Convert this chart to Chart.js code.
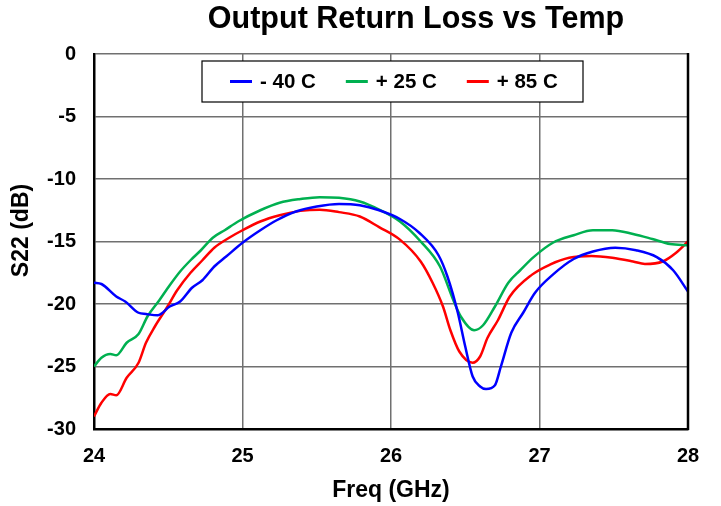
<!DOCTYPE html>
<html>
<head>
<meta charset="utf-8">
<script src="https://cdn.jsdelivr.net/npm/chart.js@4.4.1/dist/chart.umd.min.js"></script>
<style>
  html, body { margin: 0; padding: 0; background: #fff; }
  #wrap { width: 721px; height: 506px; }
</style>
</head>
<body>
<div id="wrap"><canvas id="chart" width="721" height="506"></canvas></div>
<script>
const FONT = "'Liberation Sans', Arial, sans-serif";

const chartTitle = 'Output Return Loss vs Temp';
const xTitle = 'Freq (GHz)';
const yTitle = 'S22 (dB)';

const xTicks = [24, 25, 26, 27, 28];
const yTicks = [0, -5, -10, -15, -20, -25, -30];

const seriesLabels = ['- 40 C', '+ 25 C', '+ 85 C'];
const seriesColors = ['#0000ff', '#00b050', '#ff0000'];

// -40 C
const freqM40 = [24.00, 24.05, 24.15, 24.21, 24.30, 24.35, 24.43, 24.51, 24.58, 24.66, 24.73, 24.81, 24.89, 25.00,
  25.12, 25.23, 25.36, 25.50, 25.65, 25.79, 25.92, 26.06, 26.19, 26.32, 26.38, 26.45, 26.50, 26.55, 26.60, 26.64,
  26.70, 26.74, 26.81, 26.89, 26.97, 27.09, 27.23, 27.36, 27.51, 27.65, 27.79, 27.90, 28.00];
const s22M40 = [-18.3, -18.4, -19.4, -19.8, -20.7, -20.8, -20.9, -20.2, -19.8, -18.7, -18.1, -17.0, -16.2, -15.1,
  -14.1, -13.3, -12.6, -12.2, -12.0, -12.1, -12.5, -13.2, -14.3, -16.1, -17.8, -20.7, -23.4, -25.8, -26.6, -26.8,
  -26.5, -25.0, -22.3, -20.7, -19.1, -17.65, -16.4, -15.8, -15.5, -15.7, -16.25, -17.3, -19.0];

// +25 C
const freqP25 = [24.00, 24.05, 24.11, 24.15, 24.22, 24.30, 24.36, 24.44, 24.51, 24.58, 24.65, 24.72, 24.80, 24.88,
  24.97, 25.12, 25.25, 25.39, 25.52, 25.65, 25.79, 25.92, 26.06, 26.20, 26.33, 26.42, 26.47, 26.56, 26.62, 26.70,
  26.79, 26.87, 26.96, 27.09, 27.23, 27.36, 27.49, 27.63, 27.76, 27.88, 28.00];
const s22P25 = [-25.0, -24.3, -24.0, -24.1, -23.1, -22.4, -21.0, -19.7, -18.5, -17.4, -16.5, -15.7, -14.7, -14.1,
  -13.4, -12.5, -11.9, -11.6, -11.45, -11.5, -11.8, -12.45, -13.4, -15.0, -17.0, -19.7, -21.0, -22.1, -21.7, -20.2,
  -18.3, -17.3, -16.25, -15.1, -14.5, -14.1, -14.1, -14.4, -14.8, -15.2, -15.3];

// +85 C
const freqP85 = [24.00, 24.05, 24.11, 24.15, 24.22, 24.30, 24.35, 24.41, 24.49, 24.56, 24.65, 24.73, 24.81, 24.91,
  25.00, 25.12, 25.25, 25.39, 25.52, 25.65, 25.79, 25.92, 26.06, 26.20, 26.28, 26.35, 26.40, 26.46, 26.55, 26.60,
  26.65, 26.72, 26.80, 26.95, 27.07, 27.20, 27.35, 27.49, 27.63, 27.71, 27.83, 27.92, 28.00];
const s22P85 = [-29.0, -27.9, -27.2, -27.3, -25.9, -24.7, -23.1, -21.8, -20.3, -18.9, -17.5, -16.5, -15.5, -14.7,
  -14.1, -13.4, -12.9, -12.55, -12.45, -12.65, -13.0, -13.85, -14.85, -16.6, -18.3, -20.2, -22.1, -23.8, -24.7, -24.2,
  -22.7, -21.3, -19.4, -17.65, -16.85, -16.3, -16.15, -16.3, -16.6, -16.8, -16.6, -15.9, -15.0];

function pairs(xs, ys) {
    return xs.map((x, i) => ({ x: x, y: ys[i] }));
}

const seriesData = [pairs(freqM40, s22M40), pairs(freqP25, s22P25), pairs(freqP85, s22P85)];

// Titles, right frame edge and the in-plot legend box
const decorations = {
    id: 'decorations',
    afterDraw(chart) {
        const { ctx, chartArea: a } = chart;
        ctx.save();

        ctx.strokeStyle = '#000';
        ctx.lineWidth = 2.5;
        ctx.beginPath();
        ctx.moveTo(a.right, a.top - 1);
        ctx.lineTo(a.right, a.bottom + 1);
        ctx.stroke();

        ctx.fillStyle = '#000';
        ctx.font = 'bold 30.5px ' + FONT;
        ctx.textAlign = 'center';
        ctx.textBaseline = 'alphabetic';
        ctx.fillText(chartTitle, (a.left + a.right) / 2 + 25, 28);

        ctx.save();
        ctx.translate(22, (a.top + a.bottom) / 2 - 11);
        ctx.rotate(-Math.PI / 2);
        ctx.font = 'bold 23px ' + FONT;
        ctx.textBaseline = 'middle';
        ctx.fillText(yTitle, 0, 0);
        ctx.restore();

        // legend
        const boxX = a.left + 108, boxY = a.top + 7, boxW = 381, boxH = 41;
        ctx.fillStyle = '#fff';
        ctx.fillRect(boxX, boxY, boxW, boxH);
        ctx.strokeStyle = '#000';
        ctx.lineWidth = 1.2;
        ctx.strokeRect(boxX, boxY, boxW, boxH);

        ctx.font = 'bold 20.5px ' + FONT;
        ctx.textAlign = 'left';
        ctx.textBaseline = 'middle';
        const midY = boxY + boxH / 2;
        let x = boxX + 28;
        chart.data.datasets.forEach(ds => {
            ctx.strokeStyle = ds.borderColor;
            ctx.lineWidth = 3;
            ctx.beginPath();
            ctx.moveTo(x, midY);
            ctx.lineTo(x + 22, midY);
            ctx.stroke();
            ctx.fillStyle = '#000';
            ctx.fillText(ds.label, x + 30, midY + 1);
            x += 30 + ctx.measureText(ds.label).width + 30;
        });

        ctx.restore();
    }
};

const ctx = document.getElementById('chart').getContext('2d');
new Chart(ctx, {
    type: 'line',
    data: {
        datasets: seriesData.map((d, i) => ({
            label: seriesLabels[i],
            data: d,
            borderColor: seriesColors[i],
            backgroundColor: seriesColors[i],
            borderWidth: 2.5,
            pointRadius: 0,
            fill: false,
            cubicInterpolationMode: 'monotone'
        }))
    },
    options: {
        responsive: false,
        animation: false,
        devicePixelRatio: 1,
        layout: { padding: { top: 54, right: 33, left: 0, bottom: 0 } },
        plugins: {
            legend: { display: false },
            tooltip: { enabled: false },
            title: { display: false }
        },
        scales: {
            x: {
                type: 'linear',
                min: xTicks[0],
                max: xTicks[xTicks.length - 1],
                afterBuildTicks: scale => { scale.ticks = xTicks.map(v => ({ value: v })); },
                afterFit: scale => { scale.height = 77; },
                grid: { color: '#707070', lineWidth: 1.5, drawTicks: false },
                border: { color: '#000', width: 2.5 },
                ticks: {
                    color: '#000',
                    padding: 15,
                    font: { family: FONT, size: 20, weight: 'bold' }
                },
                title: {
                    display: true,
                    text: xTitle,
                    color: '#000',
                    padding: { top: 0, bottom: 2 },
                    font: { family: FONT, size: 23, weight: 'bold' }
                }
            },
            y: {
                min: yTicks[yTicks.length - 1],
                max: yTicks[0],
                afterBuildTicks: scale => { scale.ticks = yTicks.map(v => ({ value: v })); },
                afterFit: scale => { scale.width = 94; },
                grid: { color: '#707070', lineWidth: 1.5, drawTicks: false },
                border: { color: '#000', width: 2.5 },
                ticks: {
                    color: '#000',
                    padding: 18,
                    font: { family: FONT, size: 20, weight: 'bold' }
                }
            }
        }
    },
    plugins: [decorations]
});
</script>
</body>
</html>
